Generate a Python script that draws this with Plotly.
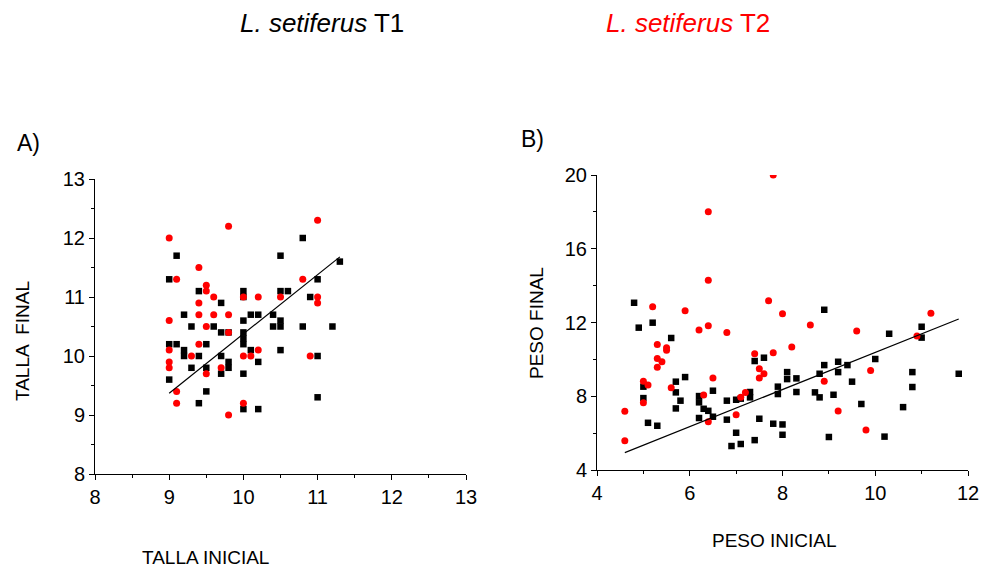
import plotly.graph_objects as go

# ---------------- Panel A data (TALLA) ----------------
a_t1_x = [9, 9.1, 9, 9.1, 9, 9.2, 9.2, 9.2, 9.3, 9.3, 9.4, 9.4, 9.4, 9.5, 9.5, 9.5,
          9.6, 9.7, 9.7, 9.7, 9.7, 9.8, 9.8, 9.8, 10, 10, 10, 10, 10, 10, 10, 10,
          10.1, 10.1, 10.2, 10.2, 10.2, 10.4, 10.4, 10.5, 10.5, 10.5, 10.5, 10.5,
          10.6, 10.8, 10.8, 10.9, 11, 11, 11, 11.2, 11.3]
a_t1_y = [11.3, 11.7, 10.2, 10.2, 9.6, 10.7, 10.1, 10.0, 10.5, 9.8, 11.1, 10.0, 9.2, 10.2, 9.8, 9.4,
          10.5, 10.9, 10.4, 10.0, 9.7, 10.4, 9.9, 9.8, 11.1, 11.0, 10.6, 10.4, 10.3, 10.2, 9.7, 9.1,
          10.7, 10.1, 10.7, 9.9, 9.1, 10.7, 10.5, 11.7, 11.1, 10.6, 10.5, 10.1,
          11.1, 12.0, 10.5, 11.0, 11.3, 10.0, 9.3, 10.5, 11.6]
a_t2_x = [9, 9, 9, 9, 9, 9.1, 9.1, 9.1, 9.3, 9.4, 9.4, 9.4, 9.4, 9.5, 9.5, 9.5, 9.5,
          9.6, 9.6, 9.7, 9.8, 9.8, 9.8, 9.8, 10, 10, 10, 10.1, 10.2, 10.2, 10.5,
          10.8, 10.9, 11, 11, 11]
a_t2_y = [12.0, 10.6, 10.1, 9.9, 9.8, 11.3, 9.4, 9.2, 10.0, 11.5, 10.9, 10.7, 10.2, 11.2, 11.1, 10.5, 9.7,
          11.0, 10.7, 9.8, 12.2, 10.7, 10.4, 9.0, 11.0, 10.0, 9.2, 10.0, 11.0, 10.1, 11.0,
          11.3, 10.0, 12.3, 11.0, 10.9]
a_fit_x = [9.0, 11.3]
a_fit_y = [9.37, 11.68]

# ---------------- Panel B data (PESO) ----------------
b_t1_x = [4.8, 4.9, 5.0, 5.0, 5.1, 5.2, 5.3, 5.6, 5.7, 5.7, 5.7, 5.8, 5.9, 6.2, 6.2, 6.2,
          6.3, 6.4, 6.5, 6.5, 6.8, 6.8, 6.9, 7.0, 7.0, 7.1, 7.1, 7.3, 7.3, 7.4, 7.4, 7.5,
          7.6, 7.8, 7.9, 7.9, 8.0, 8.0, 8.1, 8.1, 8.3, 8.3, 8.7, 8.8, 8.8, 8.9, 8.9, 9.0,
          9.1, 9.2, 9.2, 9.4, 9.5, 9.7, 10.0, 10.2, 10.3, 10.6, 10.8, 10.8, 11.0, 11.0, 11.8]
b_t1_y = [13.07, 11.72, 8.52, 7.90, 6.56, 11.99, 6.40, 11.16, 8.79, 8.21, 7.34, 7.76, 9.04, 8.01, 7.67, 6.82,
          7.32, 7.21, 8.30, 6.89, 7.76, 6.73, 5.30, 7.81, 6.02, 7.87, 5.41, 8.23, 7.94, 9.91, 5.62, 6.78,
          10.09, 6.51, 8.52, 8.12, 6.47, 5.91, 9.31, 8.93, 8.97, 8.23, 8.21, 9.22, 7.94, 12.69, 9.69, 5.79,
          8.08, 9.87, 9.31, 9.69, 8.79, 7.58, 10.02, 5.81, 11.39, 7.41, 9.31, 8.50, 11.77, 11.18, 9.22]
b_t2_x = [4.6, 4.6, 5.0, 5.0, 5.1, 5.2, 5.3, 5.3, 5.3, 5.4, 5.5, 5.5, 5.6, 5.9, 6.2, 6.3,
          6.4, 6.4, 6.4, 6.4, 6.5, 6.8, 7.0, 7.1, 7.2, 7.4, 7.5, 7.5, 7.6, 7.7, 7.8, 7.8,
          8.0, 8.2, 8.6, 8.9, 9.2, 9.6, 9.8, 9.9, 10.9, 11.2]
b_t2_y = [7.18, 5.59, 8.82, 7.65, 8.61, 12.86, 10.81, 10.05, 9.57, 9.87, 10.63, 10.49, 8.46, 12.64, 11.59, 8.07,
          18.01, 14.29, 11.83, 6.62, 8.99, 11.46, 7.00, 7.94, 8.21, 10.31, 9.49, 8.99, 9.22, 13.18, 20.0, 10.36,
          12.48, 10.67, 11.86, 8.82, 7.20, 11.54, 6.17, 9.40, 11.27, 12.50]
b_fit_x = [4.6, 11.8]
b_fit_y = [4.94, 12.19]

FONT = "Liberation Sans, Arial, sans-serif"
W, H = 984, 567

fig = go.Figure()

sq = dict(symbol="square", size=6.5, color="black")
ci = dict(symbol="circle", size=7, color="#ff0000")

fig.add_trace(go.Scatter(x=a_t1_x, y=a_t1_y, mode="markers", marker=sq, xaxis="x", yaxis="y"))
fig.add_trace(go.Scatter(x=a_t2_x, y=a_t2_y, mode="markers", marker=ci, xaxis="x", yaxis="y"))
fig.add_trace(go.Scatter(x=a_fit_x, y=a_fit_y, mode="lines", line=dict(color="black", width=1.2),
                         xaxis="x", yaxis="y"))

fig.add_trace(go.Scatter(x=b_t1_x, y=b_t1_y, mode="markers", marker=sq, xaxis="x2", yaxis="y2"))
fig.add_trace(go.Scatter(x=b_t2_x, y=b_t2_y, mode="markers", marker=ci, xaxis="x2", yaxis="y2"))
fig.add_trace(go.Scatter(x=b_fit_x, y=b_fit_y, mode="lines", line=dict(color="black", width=1.2),
                         xaxis="x2", yaxis="y2"))


def px_x(p):
    return p / W


def px_y(p):
    return 1 - p / H


axis_common = dict(showgrid=False, zeroline=False, showline=True, linecolor="black", linewidth=1,
                   ticks="outside", ticklen=5, tickcolor="black", tickwidth=1, automargin=False,
                   tickfont=dict(family=FONT, size=20, color="black"))

fig.update_layout(
    width=W, height=H,
    autosize=False,
    margin=dict(l=0, r=0, t=0, b=0, pad=0, autoexpand=False),
    paper_bgcolor="white", plot_bgcolor="white",
    showlegend=False,
    font=dict(family=FONT, color="black"),
    xaxis=dict(domain=[px_x(95), px_x(466)], range=[8, 13], dtick=1, anchor="y",
               minor=dict(dtick=0.5, ticks="outside", ticklen=3, tickcolor="black"), **axis_common),
    yaxis=dict(domain=[px_y(474), px_y(179)], range=[8, 13], dtick=1, anchor="x",
               minor=dict(dtick=0.5, ticks="outside", ticklen=3, tickcolor="black"), **axis_common),
    xaxis2=dict(domain=[px_x(597), px_x(968)], range=[4, 12], dtick=2, anchor="y2",
                minor=dict(dtick=1, ticks="outside", ticklen=3, tickcolor="black"), **axis_common),
    yaxis2=dict(domain=[px_y(470), px_y(175)], range=[4, 20], dtick=4, anchor="x2",
                minor=dict(dtick=2, ticks="outside", ticklen=3, tickcolor="black"), **axis_common),
)

ann = []


def add_text(text, x, y, size, color="black", angle=0):
    ann.append(dict(text=text, x=px_x(x), y=px_y(y), xref="paper", yref="paper",
                    xanchor="center", yanchor="middle", showarrow=False, textangle=angle,
                    font=dict(family=FONT, size=size, color=color)))


add_text("<i>L. setiferus</i> T1", 322, 23, 26)
add_text("<i>L. setiferus</i> T2", 688, 23, 26, color="#ff0000")
add_text("A)", 28, 143, 23)
add_text("B)", 532, 139, 23)
add_text("TALLA  FINAL", 22, 341, 19, angle=-90)
add_text("TALLA INICIAL", 205, 557, 19)
add_text("PESO FINAL", 536, 323, 19, angle=-90)
add_text("PESO INICIAL", 774, 540, 19)

fig.update_layout(annotations=ann)

fig.write_html("out.html", config={"responsive": False})
